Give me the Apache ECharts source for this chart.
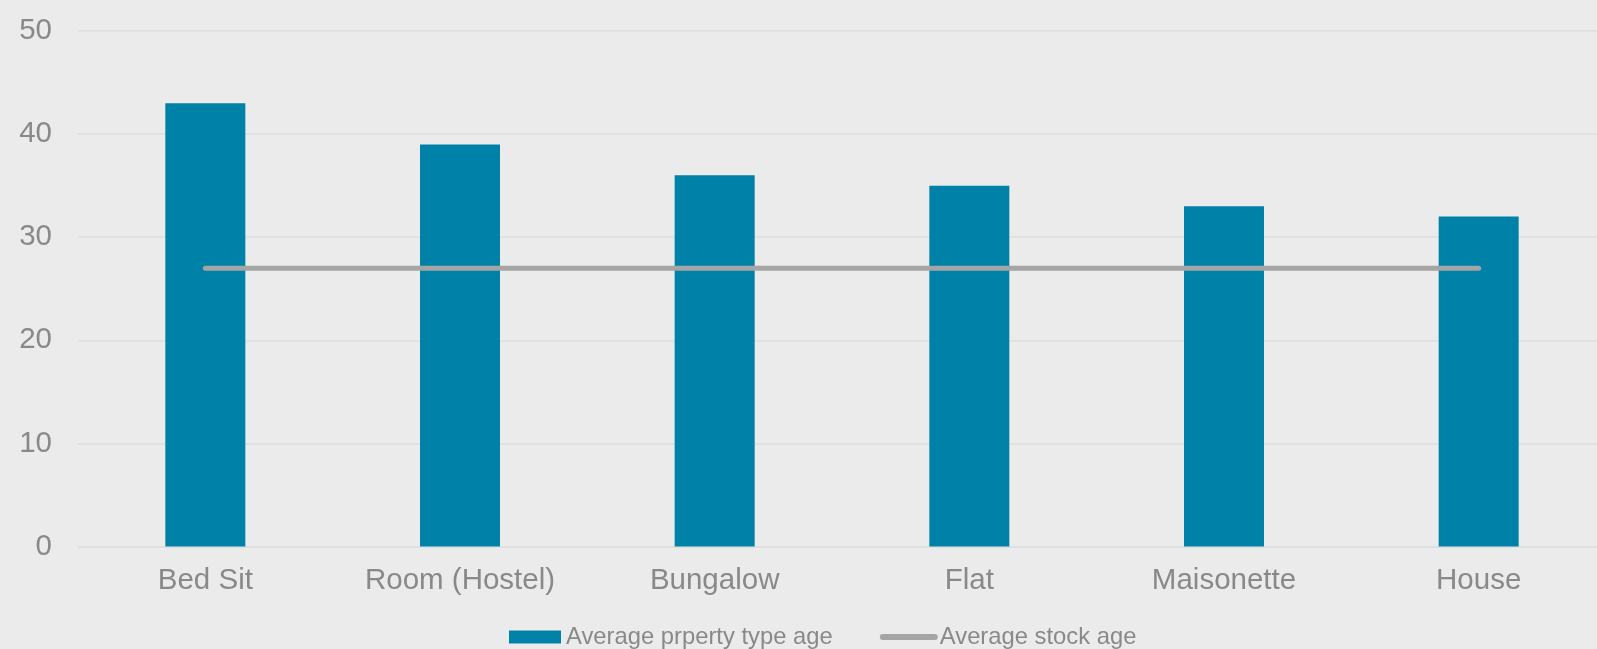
<!DOCTYPE html>
<html><head><meta charset="utf-8">
<script src="https://cdn.jsdelivr.net/npm/echarts@6/dist/echarts.min.js"></script>
<style>html,body{margin:0;padding:0;background:#EBEBEB;}#c{width:1597px;height:649px;}</style>
</head><body><div id="c"></div>
<script>
const categories = ['Bed Sit','Room (Hostel)','Bungalow','Flat','Maisonette','House'];
const propertyAge = [43,39,36,35,33,32];
const stockAge = [27,27,27,27,27,27];
const seriesNames = ['Average prperty type age','Average stock age'];

const chart = echarts.init(document.getElementById('c'));
const txt = '#898989';
chart.setOption({
  backgroundColor:'#EBEBEB',
  animation:false,
  textStyle:{fontFamily:'Liberation Sans, Arial, sans-serif'},
  grid:{left:78,width:1528,top:31,bottom:102.5,containLabel:false,outerBoundsMode:'none'},
  legend:{
    left:504, top:620, itemWidth:52, itemHeight:13, itemGap:47,
    textStyle:{color:txt,fontSize:23.8,fontFamily:'Liberation Sans, Arial, sans-serif'},
    data:[
      {name:seriesNames[0],icon:'rect'},
      {name:seriesNames[1],lineStyle:{width:6,color:'#A5A5A5',cap:'round'},itemStyle:{opacity:0}}
    ]
  },
  xAxis:{type:'category',data:categories,
    axisTick:{show:false},
    axisLine:{lineStyle:{color:'#DEDEDE',width:1.5}},
    axisLabel:{color:txt,fontSize:29.5,margin:19}},
  yAxis:{type:'value',min:0,max:50,interval:10,
    axisLine:{show:false},axisTick:{show:false},
    splitLine:{lineStyle:{color:'#DEDEDE',width:1.5}},
    axisLabel:{color:txt,fontSize:29.5,margin:26}},
  series:[
    {name:seriesNames[0],type:'bar',data:propertyAge,barWidth:80,
     itemStyle:{color:'#0081A7'}},
    {name:seriesNames[1],type:'line',data:stockAge,symbol:'none',
     lineStyle:{color:'#A5A5A5',width:5,cap:'round'},itemStyle:{color:'#A5A5A5'}}
  ]
});
</script></body></html>
